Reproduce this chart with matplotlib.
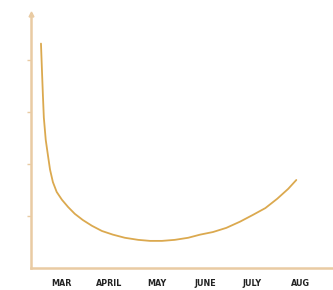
import matplotlib
matplotlib.use("Agg")
import matplotlib.pyplot as plt

# months on the x axis
months = ["MAR", "APRIL", "MAY", "JUNE", "JULY", "AUG"]

# curve (x in month steps, MAR = 0)
curve_x = [-0.44, -0.42, -0.40, -0.38, -0.34, -0.29, -0.25, -0.19, -0.11, 0.0,
           0.13, 0.27, 0.44, 0.63, 0.84, 1.07, 1.32, 1.60, 1.85, 2.10,
           2.37, 2.65, 2.90, 3.17, 3.45, 3.74, 4.01, 4.27, 4.52, 4.75, 4.92]
curve_y = [4.31, 3.81, 3.33, 2.89, 2.46, 2.14, 1.89, 1.65, 1.46, 1.31,
           1.17, 1.04, 0.92, 0.81, 0.71, 0.64, 0.58, 0.54, 0.52, 0.52,
           0.54, 0.58, 0.64, 0.69, 0.77, 0.89, 1.02, 1.15, 1.33, 1.52, 1.69]

axis_color = "#e9cba3"
line_color = "#dba94f"

fig = plt.figure(figsize=(3.33, 2.9), dpi=100)
ax = fig.add_axes([0.093, 0.076, 0.907, 0.876])

ax.plot(curve_x, curve_y, color=line_color, lw=1.3,
        solid_capstyle="round", solid_joinstyle="round")

ax.set_xlim(-0.65, 5.69)
ax.set_ylim(0, 4.88)

for s in ["top", "right"]:
    ax.spines[s].set_visible(False)
for s in ["left", "bottom"]:
    ax.spines[s].set_color(axis_color)
    ax.spines[s].set_linewidth(1.8)

# arrow head on the y axis
ax.plot(0, 1, marker="^", color=axis_color, markersize=3.5, transform=ax.transAxes, clip_on=False)

ax.set_yticks([1, 2, 3, 4])
ax.set_yticklabels([])
ax.tick_params(axis="y", colors=axis_color, length=3, width=1)

ax.set_xticks(range(len(months)))
ax.set_xticklabels(months, fontsize=5.8, fontweight="bold", color="#222222")
ax.tick_params(axis="x", length=0, pad=8)

fig.savefig("out.png", dpi=100)
